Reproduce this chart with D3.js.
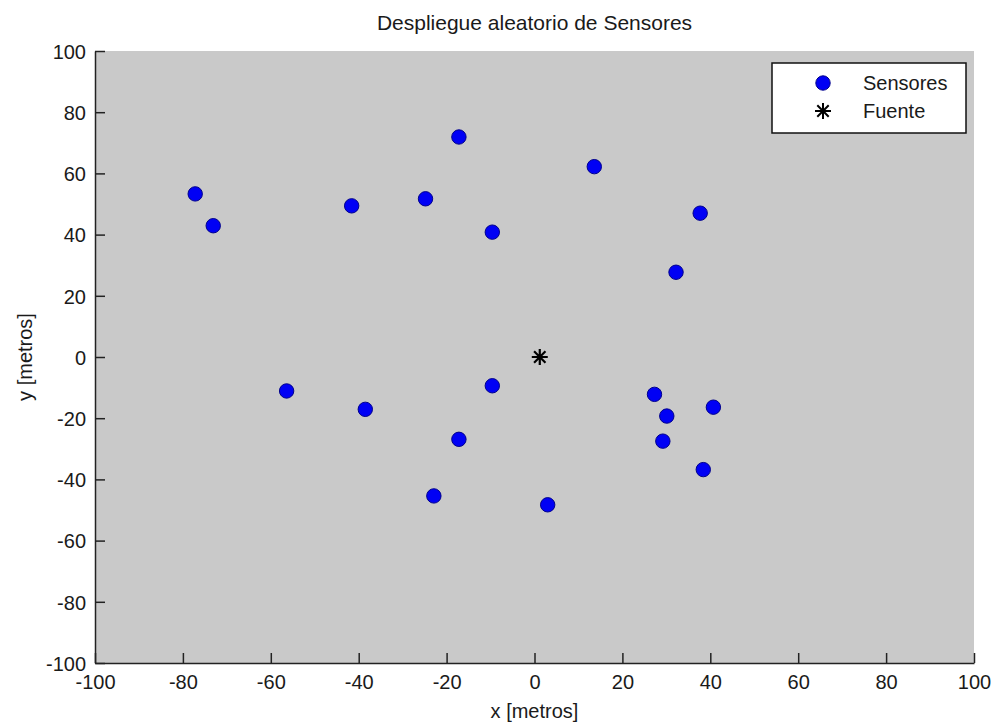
<!DOCTYPE html>
<html>
<head>
<meta charset="utf-8">
<script src="https://cdn.jsdelivr.net/npm/d3@7"></script>
<style>
  body { margin: 0; background: #fff; }
  text { font-family: "Liberation Sans", Arial, sans-serif; fill: #1a1a1a; }
</style>
</head>
<body>
<div id="chart"></div>
<script>
// sensor positions
const sensorX = [-77.2, -73.1, -41.6, -24.8, -17.2, -9.6, 13.6, 37.7, 32.2,
                 -56.4, -38.5, -9.6, -17.2, -22.9, 3.0, 27.3, 30.1, 40.7, 29.2, 38.4];
const sensorY = [53.3, 42.9, 49.4, 51.7, 71.9, 40.8, 62.2, 47.0, 27.7,
                 -11.1, -17.1, -9.4, -26.9, -45.4, -48.3, -12.2, -19.3, -16.4, -27.5, -36.8];
const sourceX = [1.2];
const sourceY = [0];
const xTicks = [-100, -80, -60, -40, -20, 0, 20, 40, 60, 80, 100];
const yTicks = [-100, -80, -60, -40, -20, 0, 20, 40, 60, 80, 100];
const legendLabels = ['Sensores', 'Fuente'];

const W = 992, H = 722;
const m = { left: 95, right: 18, top: 51, bottom: 59 };

const svg = d3.select('#chart').append('svg')
  .attr('width', W).attr('height', H);

const x = d3.scaleLinear().domain([-100, 100]).range([m.left, W - m.right]);
const y = d3.scaleLinear().domain([-100, 100]).range([H - m.bottom, m.top]);

// grey axes background
svg.append('rect')
  .attr('x', x(-100)).attr('y', y(100))
  .attr('width', x(100) - x(-100)).attr('height', y(-100) - y(100))
  .attr('fill', '#c9c9c9');

// axes, ticks pointing inward, plain hyphen for negatives
const fmt = d => String(d);
const xAxis = svg.append('g')
  .attr('transform', `translate(0,${y(-100)})`)
  .call(d3.axisBottom(x).tickValues(xTicks).tickFormat(fmt)
    .tickSizeInner(-10).tickSizeOuter(0).tickPadding(12));
const yAxis = svg.append('g')
  .attr('transform', `translate(${x(-100)},0)`)
  .call(d3.axisLeft(y).tickValues(yTicks).tickFormat(fmt)
    .tickSizeInner(-10).tickSizeOuter(0).tickPadding(9));

[xAxis, yAxis].forEach(g => {
  g.select('.domain').attr('stroke', '#222').attr('stroke-width', 1.5);
  g.selectAll('.tick line').attr('stroke', '#222').attr('stroke-width', 1.5);
  g.selectAll('.tick text').attr('font-size', 20).attr('fill', '#1a1a1a')
    .style('font-family', '"Liberation Sans", Arial, sans-serif');
});
yAxis.selectAll('.tick text').attr('dy', '0.36em');

// sensors
const sensors = sensorX.map((v, i) => ({ x: v, y: sensorY[i] }));
svg.append('g').selectAll('circle')
  .data(sensors)
  .join('circle')
    .attr('cx', d => x(d.x))
    .attr('cy', d => y(d.y))
    .attr('r', 7.2)
    .attr('fill', '#0000f5')
    .attr('stroke', '#00008c')
    .attr('stroke-width', 1);

// source (asterisk)
const star = 'M-8,0H8M0,-8V8M-5.7,-5.7L5.7,5.7M-5.7,5.7L5.7,-5.7';
const sources = sourceX.map((v, i) => ({ x: v, y: sourceY[i] }));
svg.append('g').selectAll('path')
  .data(sources)
  .join('path')
    .attr('transform', d => `translate(${x(d.x)},${y(d.y)})`)
    .attr('d', star)
    .attr('stroke', '#000')
    .attr('stroke-width', 2.2)
    .attr('fill', 'none');

// title and axis labels
svg.append('text')
  .attr('x', (x(-100) + x(100)) / 2).attr('y', 30)
  .attr('text-anchor', 'middle').attr('font-size', 21)
  .text('Despliegue aleatorio de Sensores');

svg.append('text')
  .attr('x', (x(-100) + x(100)) / 2).attr('y', 718)
  .attr('text-anchor', 'middle').attr('font-size', 20)
  .text('x [metros]');

svg.append('text')
  .attr('transform', `translate(32,${(y(-100) + y(100)) / 2}) rotate(-90)`)
  .attr('text-anchor', 'middle').attr('font-size', 20)
  .text('y [metros]');

// legend
const lg = svg.append('g');
lg.append('rect')
  .attr('x', 772).attr('y', 63).attr('width', 194).attr('height', 70)
  .attr('fill', '#fff').attr('stroke', '#111').attr('stroke-width', 1.5);

const rowY = [83, 111];
lg.append('circle')
  .attr('cx', 823).attr('cy', rowY[0]).attr('r', 7.2)
  .attr('fill', '#0000f5').attr('stroke', '#00008c');
lg.append('path')
  .attr('transform', `translate(823,${rowY[1]})`)
  .attr('d', star).attr('stroke', '#000').attr('stroke-width', 2).attr('fill', 'none');

lg.selectAll('text.lab')
  .data(legendLabels)
  .join('text')
    .attr('class', 'lab')
    .attr('x', 863).attr('y', (d, i) => rowY[i] + 7)
    .attr('font-size', 20)
    .text(d => d);
</script>
</body>
</html>
